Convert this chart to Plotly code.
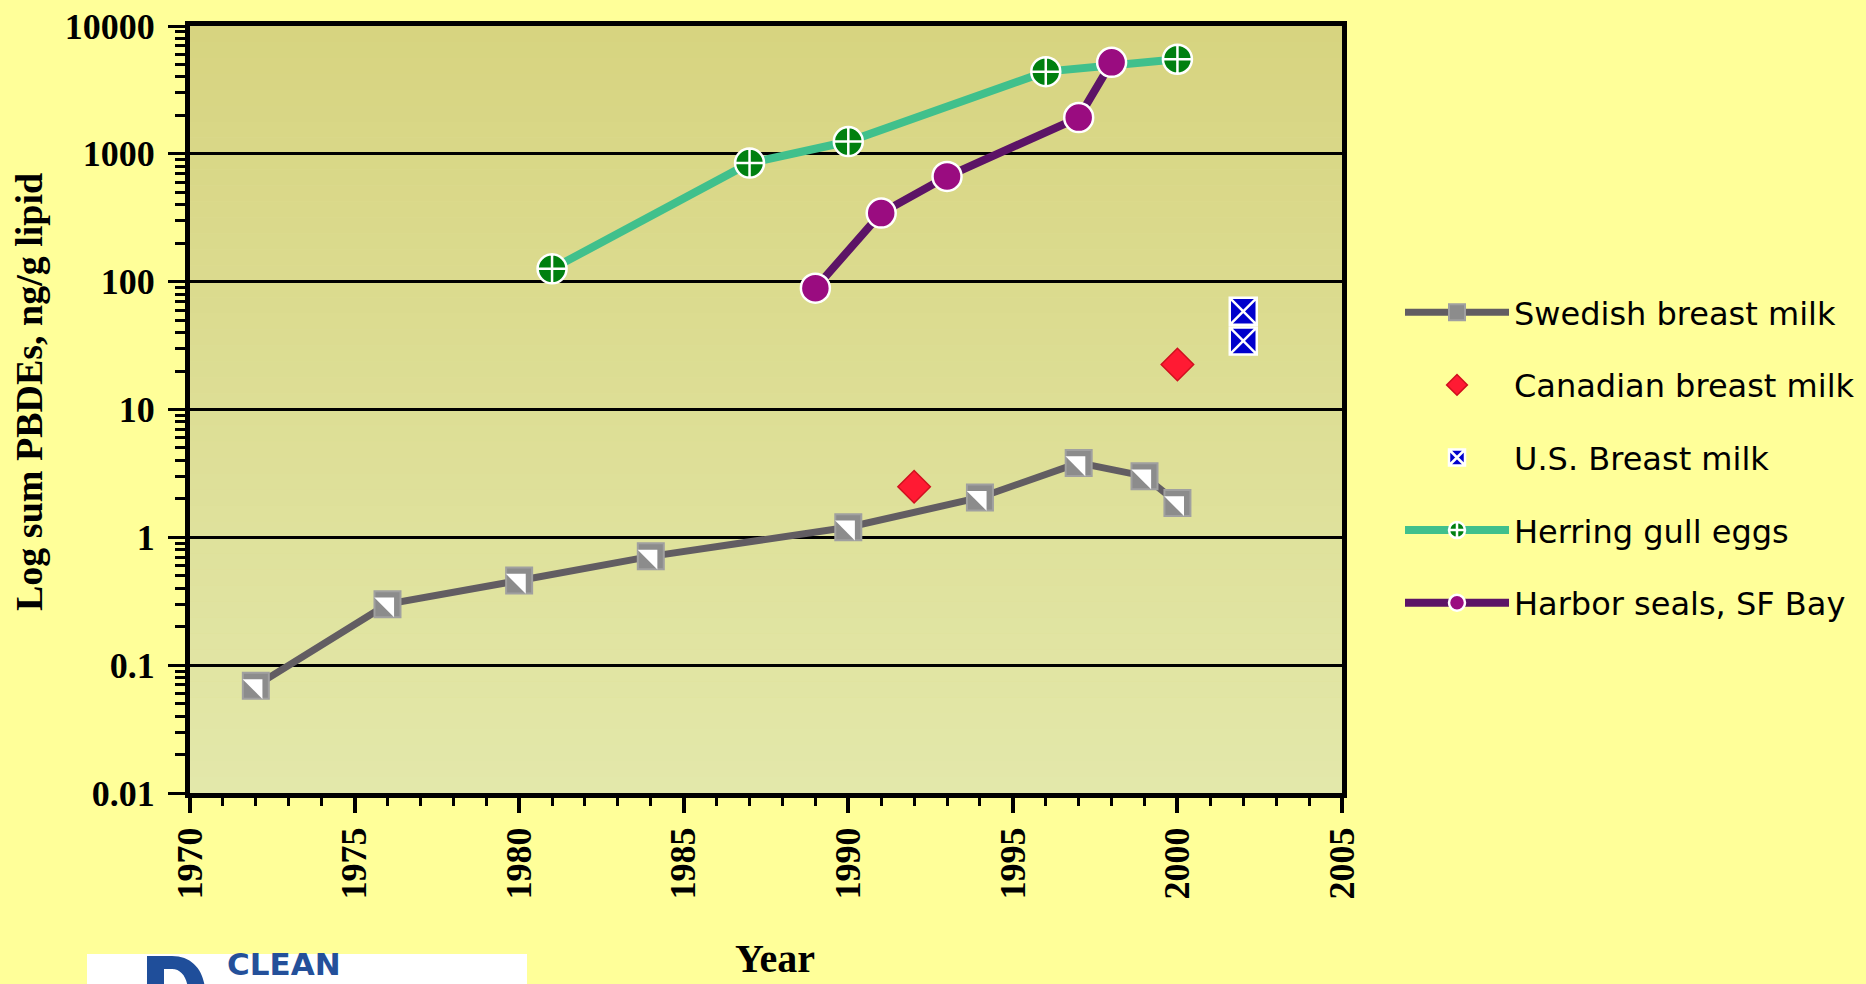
import plotly.graph_objects as go

# ---------------- data ----------------
swedish_years = [1972, 1976, 1980, 1984, 1990, 1994, 1997, 1999, 2000]
swedish_vals = [0.069, 0.30, 0.46, 0.71, 1.20, 2.05, 3.82, 3.01, 1.86]

canadian_years = [1992, 2000]
canadian_vals = [2.49, 22.5]

us_years = [2002, 2002]
us_vals = [58.6, 34.4]

gull_years = [1981, 1987, 1990, 1996, 2000]
gull_vals = [126, 846, 1248, 4395, 5495]

seal_years = [1989, 1991, 1993, 1997, 1998]
seal_vals = [89, 344, 665, 1922, 5200]

y_tickvals = [0.01, 0.1, 1, 10, 100, 1000, 10000]
y_ticktext = ["0.01", "0.1", "1", "10", "100", "1000", "10000"]
x_tickvals = [1970, 1975, 1980, 1985, 1990, 1995, 2000, 2005]

series_names = ["Swedish breast milk", "Canadian breast milk", "U.S. Breast milk",
                "Herring gull eggs", "Harbor seals, SF Bay"]

# ---------------- layout geometry (px) ----------------
W, H = 1866, 984
L, R, T, B = 190, 524, 26, 191
PW, PH = W - L - R, H - T - B


def px_x(px):
    return (px - L) / PW


def px_y(py):
    return (H - B - py) / PH


fig = go.Figure()

# Swedish breast milk
fig.add_trace(go.Scatter(
    x=swedish_years, y=swedish_vals, name=series_names[0], legendgroup="g0",
    mode="lines+markers",
    line=dict(color="#625D62", width=7),
    marker=dict(symbol="square", size=26, color="#8C8C8C",
                line=dict(color="#A0A0A0", width=2)),
))
fig.add_trace(go.Scatter(
    x=swedish_years, y=swedish_vals, legendgroup="g0", showlegend=False,
    mode="markers", hoverinfo="skip",
    marker=dict(symbol="triangle-ne", size=22, color="#FFFFFF",
                line=dict(width=0)),
))

# Canadian breast milk
fig.add_trace(go.Scatter(
    x=canadian_years, y=canadian_vals, name=series_names[1], legendgroup="g1",
    mode="markers",
    marker=dict(symbol="diamond", size=25, color="#FF1A33",
                line=dict(color="#D0101E", width=1.5)),
))

# U.S. breast milk
fig.add_trace(go.Scatter(
    x=us_years, y=us_vals, name=series_names[2], legendgroup="g2",
    mode="markers",
    marker=dict(symbol="square-x", size=27, color="#0000CC",
                line=dict(color="#FFFFFF", width=2.5)),
))

# Herring gull eggs
fig.add_trace(go.Scatter(
    x=gull_years, y=gull_vals, name=series_names[3], legendgroup="g3",
    mode="lines+markers",
    line=dict(color="#40C08C", width=8),
    marker=dict(symbol="circle-cross", size=29, color="#008010",
                line=dict(color="#FFFFFF", width=2.5)),
))

# Harbor seals
fig.add_trace(go.Scatter(
    x=seal_years, y=seal_vals, name=series_names[4], legendgroup="g4",
    mode="lines+markers",
    line=dict(color="#5C1466", width=8),
    marker=dict(symbol="circle", size=29, color="#9A0C80",
                line=dict(color="#FFFFFF", width=2.5)),
))

# ---------------- background gradient bands ----------------
top_rgb = (0xD7, 0xD4, 0x80)
bot_rgb = (0xE3, 0xE8, 0xAA)
nb = 48
shapes = []
for i in range(nb):
    t = (i + 0.5) / nb
    c = tuple(int(round(bot_rgb[k] + (top_rgb[k] - bot_rgb[k]) * t)) for k in range(3))
    shapes.append(dict(type="rect", xref="x domain", yref="y domain",
                       x0=0, x1=1, y0=i / nb, y1=(i + 1) / nb,
                       fillcolor="rgb(%d,%d,%d)" % c, line=dict(width=0),
                       layer="below"))

# logo box
shapes.append(dict(type="rect", xref="paper", yref="paper",
                   x0=px_x(87), x1=px_x(527), y0=px_y(990), y1=px_y(954),
                   fillcolor="#FFFFFF", line=dict(width=0), layer="above"))


def P(x, y):
    return "%.5f,%.5f" % (px_x(x), px_y(y))


# logo mark (a large blue "D" shape, cut by the bottom edge)
d_path = ("M" + P(147, 956) + " L" + P(172, 956) + " C" + P(193, 956) + " " + P(205, 972)
          + " " + P(205, 992) + " L" + P(188, 992) + " C" + P(188, 979) + " " + P(182, 969)
          + " " + P(172, 969) + " L" + P(164, 969) + " L" + P(164, 992) + " L" + P(147, 992) + " Z")
shapes.append(dict(type="path", xref="paper", yref="paper", path=d_path,
                   fillcolor="#1F4E9A", line=dict(width=0), layer="above"))

serif_bold = dict(family="Liberation Serif", size=36, color="black", weight="bold")

annotations = [
    dict(text="Log sum PBDEs, ng/g lipid", xref="paper", yref="paper",
         x=px_x(29), y=px_y(392), textangle=-90, showarrow=False,
         xanchor="center", yanchor="middle",
         font=dict(family="Liberation Serif", size=38, color="black", weight="bold")),
    dict(text="Year", xref="paper", yref="paper",
         x=px_x(775), y=px_y(983), showarrow=False,
         xanchor="center", yanchor="bottom",
         font=dict(family="Liberation Serif", size=40, color="black", weight="bold")),
    dict(text="CLEAN", xref="paper", yref="paper",
         x=px_x(225), y=px_y(984), showarrow=False,
         xanchor="left", yanchor="bottom",
         font=dict(family="DejaVu Sans", size=31, color="#24509A", weight="bold")),
]

fig.update_layout(
    width=W, height=H,
    margin=dict(l=L, r=R, t=T, b=B, pad=0, autoexpand=False),
    paper_bgcolor="#FFFF99",
    plot_bgcolor="#DEDE96",
    shapes=shapes,
    annotations=annotations,
    showlegend=True,
    legend=dict(
        x=px_x(1400), y=px_y(285), xanchor="left", yanchor="top",
        bgcolor="rgba(0,0,0,0)", borderwidth=0,
        font=dict(family="DejaVu Sans", size=32, color="black"),
        itemwidth=104, tracegroupgap=28, traceorder="grouped",
    ),
    xaxis=dict(
        range=[1970, 2005], tickvals=x_tickvals, tickangle=-90,
        showline=True, linewidth=5, linecolor="black", mirror=True,
        showgrid=False, zeroline=False,
        ticks="outside", ticklen=15, tickwidth=4, tickcolor="black",
        ticklabelstandoff=0,
        tickfont=serif_bold,
        minor=dict(dtick=1, ticks="outside", ticklen=8, tickwidth=3,
                   tickcolor="black", showgrid=False),
    ),
    yaxis=dict(
        type="log", range=[-2, 4], tickvals=y_tickvals, ticktext=y_ticktext,
        showline=True, linewidth=5, linecolor="black", mirror=True,
        showgrid=True, gridcolor="black", gridwidth=2.5, zeroline=False,
        ticks="outside", ticklen=17, tickwidth=3, tickcolor="black",
        ticklabelstandoff=6,
        tickfont=serif_bold,
        minor=dict(dtick="D1", ticks="outside", ticklen=10, tickwidth=3,
                   tickcolor="black", showgrid=False),
    ),
)

fig.write_html(
    "out.html",
    config={"displayModeBar": False},
    post_script="document.body.style.margin='0px';document.body.style.padding='0px';",
)
